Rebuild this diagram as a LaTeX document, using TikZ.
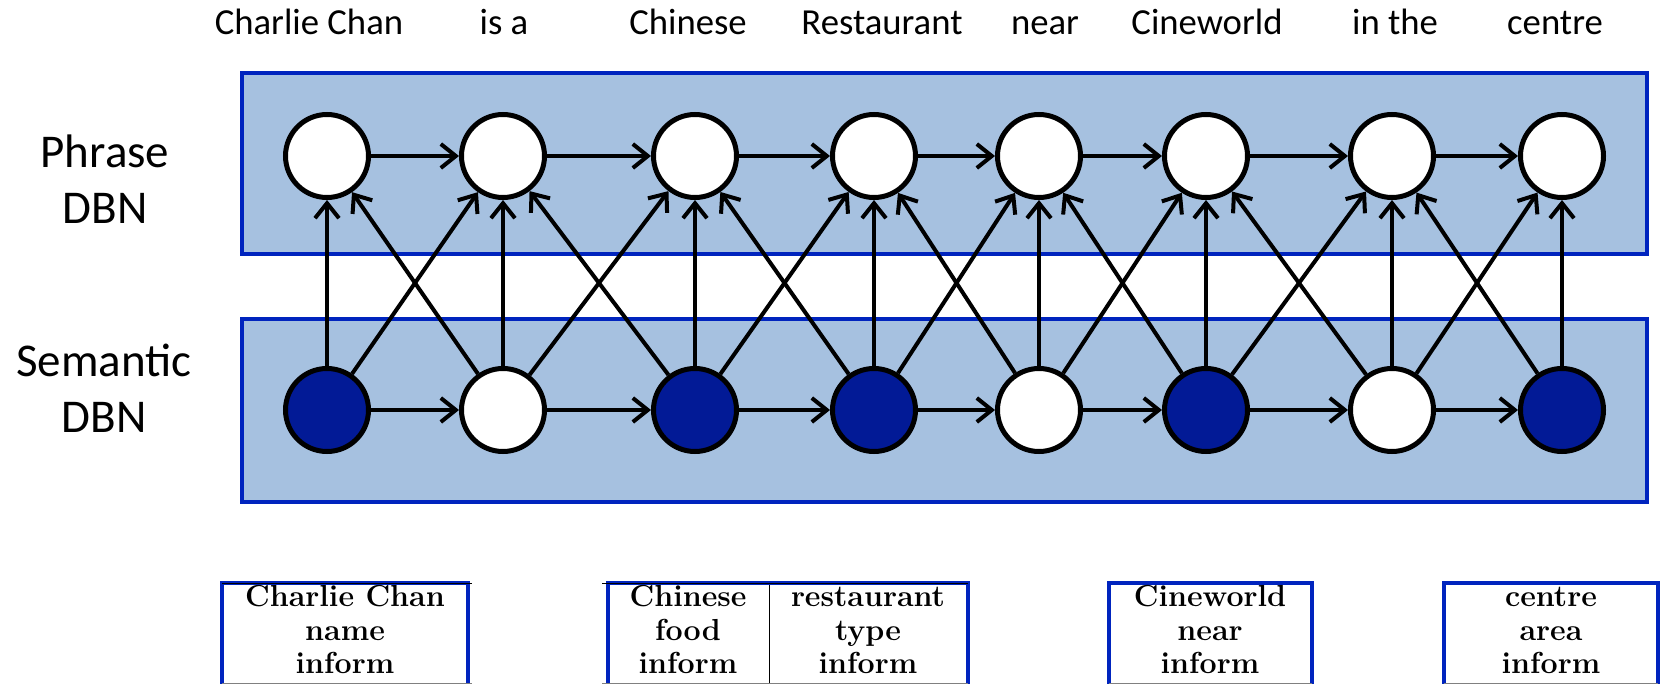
\documentclass[tikz,border=0pt]{standalone}
\usepackage{fontspec}
\newfontfamily\carl{Carlito}
\usetikzlibrary{arrows.meta}
\definecolor{boxfill}{RGB}{166,193,224}
\definecolor{boxline}{RGB}{0,36,190}
\definecolor{darknode}{RGB}{2,26,150}
\begin{document}
\begin{tikzpicture}[x=0.5pt,y=-0.5pt,
  dbn/.style={draw=boxline,line width=2pt,fill=boxfill},
  hid/.style={circle,draw=black,line width=2.5pt,fill=white,minimum size=41.5pt,inner sep=0pt},
  obs/.style={hid,fill=darknode},
  edge/.style={line width=2pt,-{Straight Barb[length=7.5pt,width=12pt]}},
  word/.style={font=\carl\fontsize{18.35}{22}\selectfont,anchor=base,inner sep=0pt},
  side/.style={font=\carl\fontsize{23.5}{28}\selectfont,anchor=north,inner sep=0pt},
  cell/.style={font=\bfseries\fontsize{15.2}{16.75}\selectfont,anchor=north,inner sep=0pt},
  tbox/.style={draw=boxline,line width=2pt,fill=white},
  rule/.style={draw=black,line width=0.5pt}]
\useasboundingbox (0,0) rectangle (1666,684);

% words
\node[word] (w1) at (309,35) {Charlie Chan};
\node[word] (w2) at (504,35) {is a};
\node[word] (w3) at (688,35) {Chinese};
\node[word] (w4) at (882,35) {Restaurant};
\node[word] (w5) at (1045,35) {near};
\node[word] (w6) at (1207,35) {Cineworld};
\node[word] (w7) at (1395,35) {in the};
\node[word] (w8) at (1555,35) {centre};

% side labels
\node[side] (lp) at (105,128) {\begin{tabular}{@{}c@{}}Phrase\\DBN\end{tabular}};
\node[side] (ls) at (104,337) {\begin{tabular}{@{}c@{}}Semantic\\DBN\end{tabular}};

% DBN boxes
\path[dbn] (242,73) rectangle (1647,254);
\path[dbn] (242,319) rectangle (1647,502);

% nodes
\foreach \i/\x in {1/327,2/503,3/695,4/874,5/1039,6/1206,7/1392,8/1562}
  \node[hid] (p\i) at (\x,156) {};
\foreach \i/\x/\s in {1/327/obs,2/503/hid,3/695/obs,4/874/obs,5/1039/hid,6/1206/obs,7/1392/hid,8/1562/obs}
  \node[\s] (s\i) at (\x,410) {};

% edges
\foreach \i in {1,...,7} {
  \pgfmathtruncatemacro{\j}{\i+1}
  \draw[edge] (p\i) -- (p\j);
  \draw[edge] (s\i) -- (s\j);
  \draw[edge] (s\i) -- (p\j);
  \draw[edge] (s\j) -- (p\i);
}
\foreach \i in {1,...,8}
  \draw[edge] (s\i) -- (p\i);

% tables
\begin{scope}
\clip (0,0) rectangle (1666,684);
\path[tbox] (222,583) rectangle (468,720);
\path[tbox] (608,583) rectangle (968,720);
\path[tbox] (1109,583) rectangle (1312,720);
\path[tbox] (1444,583) rectangle (1658,720);
\draw[rule] (222,583) -- (472,583);
\draw[rule] (602,583) -- (968,583);
\draw[rule] (769,585) -- (769,684);
\draw[rule,draw=gray] (222,683) -- (472,683);
\draw[rule,draw=gray] (602,683) -- (968,683);
\draw[rule,draw=gray] (1109,683) -- (1312,683);
\draw[rule,draw=gray] (1444,683) -- (1658,683);
\end{scope}
\node[cell] (t1) at (345,583) {\begin{tabular}{@{}c@{}}Charlie Chan\\name\\inform\end{tabular}};
\node[cell] (t2) at (688,583) {\begin{tabular}{@{}c@{}}Chinese\\food\\inform\end{tabular}};
\node[cell] (t3) at (868,583) {\begin{tabular}{@{}c@{}}restaurant\\type\\inform\end{tabular}};
\node[cell] (t4) at (1210,583) {\begin{tabular}{@{}c@{}}Cineworld\\near\\inform\end{tabular}};
\node[cell] (t5) at (1551,583) {\begin{tabular}{@{}c@{}}centre\\area\\inform\end{tabular}};
\end{tikzpicture}
\end{document}
